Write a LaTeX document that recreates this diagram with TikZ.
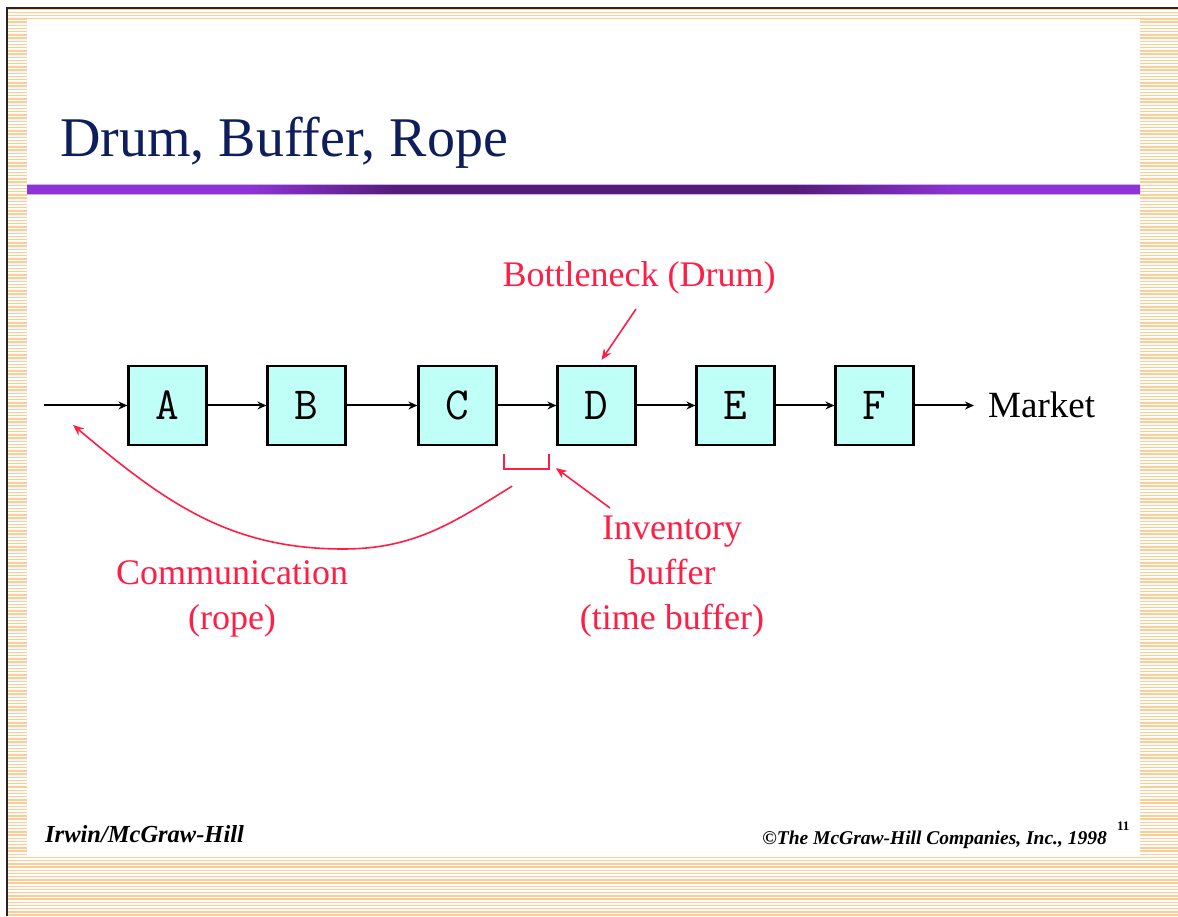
\documentclass[tikz,border=0pt]{standalone}
\usepackage{fontspec}
\setmainfont{Liberation Serif}
\usetikzlibrary{arrows.meta,calc}

\definecolor{stripe}{RGB}{255,204,150}
\definecolor{titleblue}{RGB}{14,30,92}
\definecolor{barlight}{RGB}{142,52,214}
\definecolor{bardark}{RGB}{86,28,122}
\definecolor{baredge}{RGB}{205,175,238}
\definecolor{boxfill}{RGB}{192,255,248}
\definecolor{labelred}{RGB}{255,30,70}

% purple rule under the title: light at both ends, dark in the middle
\pgfdeclarehorizontalshading{titlebar}{100bp}{%
  color(0bp)=(barlight); color(35bp)=(barlight); color(41.5bp)=(bardark);
  color(59.5bp)=(bardark); color(67bp)=(barlight); color(100bp)=(barlight)}

\tikzset{
  stage/.style={draw=black, line width=2.2pt, fill=boxfill,
    minimum width=78pt, minimum height=79pt, inner sep=0pt,
    font=\fontsize{46}{46}\selectfont\ttfamily},
  flow/.style={line width=2pt, -{Stealth[length=9pt,width=8pt]}},
  note/.style={text=labelred, inner sep=0pt, align=center,
    font=\fontsize{36}{45}\selectfont},
  pointer/.style={draw=labelred, line width=1.6pt,
    -{Stealth[length=11pt,width=9pt]}},
  bufmark/.style={draw=labelred, line width=2pt},
  footer/.style={inner sep=0pt}
}

\begin{document}
\begin{tikzpicture}[x=1pt,y=1pt]
\useasboundingbox (0,0) rectangle (1178,916);

% striped slide border
\foreach \yy in {1,4.2,...,907}
  \draw[stripe, line width=1.4pt] (8,\yy) -- (1178,\yy);
\fill[white] (27,61) rectangle (1140,897);
\draw[line width=2pt, black!85] (7,0) -- (7,908) -- (1178,908);

% title and rule
\node[anchor=base west, inner sep=0pt, text=titleblue,
  font=\fontsize{56}{56}\selectfont] (title) at (60,759) {Drum, Buffer, Rope};
\fill[baredge] (27,720.5) rectangle (1140,731.5);
\shade[shading=titlebar] (27,722) rectangle (1140,730);

% process stages
\node[stage] (A) at (167.5,510.5) {A};
\node[stage] (B) at (306.5,510.5) {B};
\node[stage] (C) at (457.5,510.5) {C};
\node[stage] (D) at (596.5,510.5) {D};
\node[stage] (E) at (735.5,510.5) {E};
\node[stage] (F) at (874.5,510.5) {F};
\coordinate (src) at (44,510.5);
\node[anchor=base west, inner sep=0pt, font=\fontsize{37}{37}\selectfont]
  (mkt) at (988,498) {Market};

\draw[flow] (src) -- (A);
\draw[flow] (A) -- (B);
\draw[flow] (B) -- (C);
\draw[flow] (C) -- (D);
\draw[flow] (D) -- (E);
\draw[flow] (E) -- (F);
\draw[flow, shorten >=14pt] (F) -- (F -| mkt.west);

% drum
\node[note, anchor=base] (bn) at (639,629) {Bottleneck (Drum)};
\draw[pointer] ($(bn.base)+(-3,-22)$) -- ($(D.north)+(5,5)$);

% buffer in front of the drum
\coordinate (bufL) at ($(C.south east)+(6.5,-8)$);
\coordinate (bufR) at ($(D.south west)+(-7.5,-8)$);
\draw[bufmark] (bufL) -- ++(0,-15) -| (bufR);
% base of a multi-line note is the baseline of its last line
\node[note, anchor=base] (inv) at (672,286) {Inventory\\buffer\\(time buffer)};
\draw[pointer] ($(inv.base)+(-62,122)$) -- ($(bufR)+(7,-14)$);

% rope back to the release point
\coordinate (ropeS) at ($(bufL)+(8,-32)$);
\coordinate (ropeLow) at (343,367);
\coordinate (ropeE) at ($(src)+(29,-19.5)$);
\draw[pointer] (ropeS) to[out=212,in=0] (ropeLow) to[out=180,in=-40] (ropeE);
\node[note, anchor=base] (rope) at (232,286) {Communication\\(rope)};

% footer
\node[footer, anchor=base west, font=\fontsize{24.5}{24.5}\selectfont\bfseries\itshape]
  (pub) at (45,74) {Irwin/McGraw-Hill};
\node[footer, anchor=base east, font=\fontsize{19.5}{19.5}\selectfont\bfseries\itshape]
  (copy) at (1107,72) {©The McGraw-Hill Companies, Inc., 1998};
\node[footer, anchor=base west, font=\fontsize{13}{13}\selectfont\bfseries]
  (pg) at (1117,86) {11};
\end{tikzpicture}
\end{document}
